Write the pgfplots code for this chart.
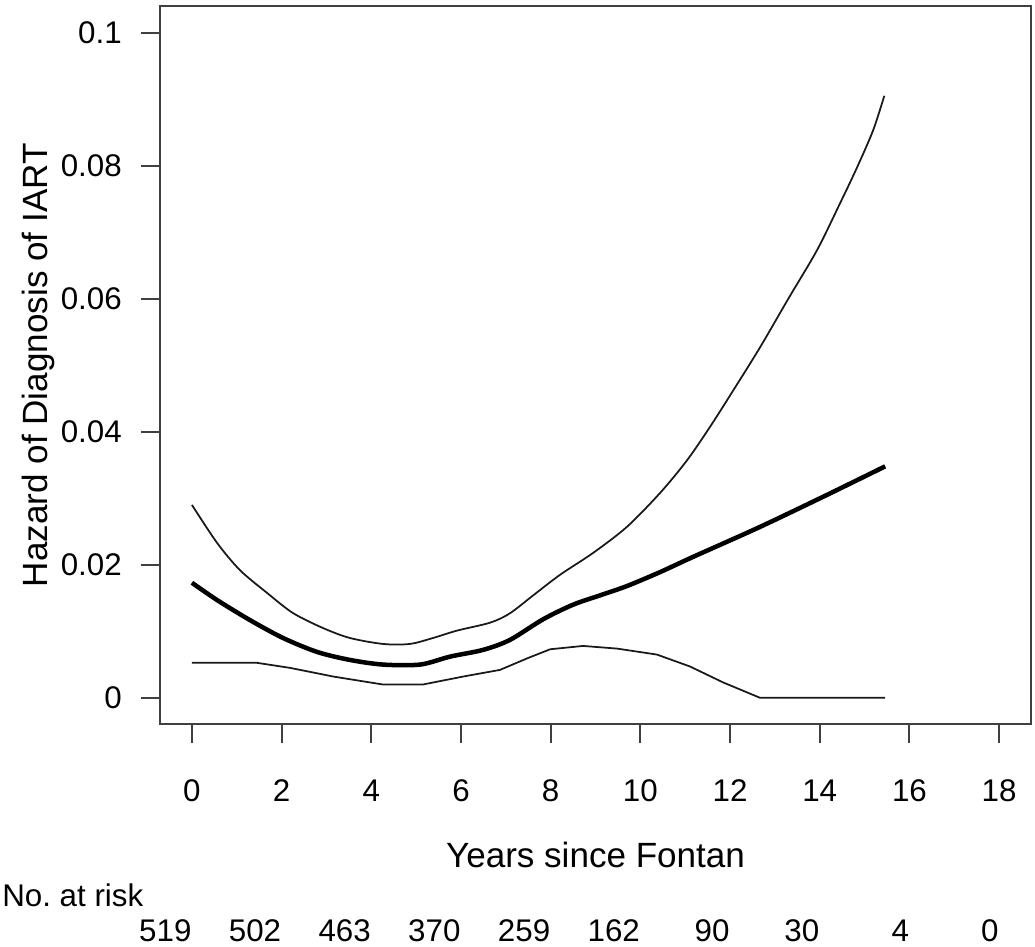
\documentclass[border=0pt]{standalone}
\usepackage{fontspec}
\setmainfont{Liberation Sans}
\usepackage{pgfplots}
\pgfplotsset{compat=1.18}

\begin{document}
\frenchspacing
\begin{tikzpicture}[risk/.style={anchor=base east, inner sep=0, font=\fontsize{12.5}{15}\selectfont}]
\begin{axis}[
  scale only axis, width=348pt, height=286.8pt,
  xmin=-0.72, xmax=18.72, ymin=-0.004, ymax=0.104,
  axis line style={draw=black!75, line width=0.8pt},
  xtick={0,2,4,6,8,10,12,14,16,18},
  ytick={0,0.02,0.04,0.06,0.08,0.1},
  yticklabels={0,0.02,0.04,0.06,0.08,0.1},
  scaled y ticks=false,
  tick align=outside, xtick pos=bottom, ytick pos=left,
  major tick length=7.6pt,
  tick style={draw=black!75, line width=0.8pt},
  tick label style={font=\fontsize{12.5}{15}\selectfont},
  /pgf/number format/assume math mode=true,
  xticklabel style={yshift=-11pt},
  yticklabel style={xshift=-4pt},
  clip=false,
]
% upper confidence limit
\addplot[black!90, line width=0.7pt, smooth, tension=0.5] coordinates {
(0,0.0290) (0.56,0.0233) (1.07,0.0192) (1.67,0.0158) (2.25,0.01276)
(2.92,0.0105) (3.52,0.0090) (4.26,0.0081) (4.86,0.0081) (5.38,0.0090)
(5.91,0.0101) (6.65,0.0113) (7.09,0.0127) (7.61,0.0154) (8.21,0.0185)
(8.95,0.0218) (9.70,0.0257) (10.44,0.0308) (11.04,0.0357) (11.55,0.0407)
(12.07,0.0462) (12.67,0.0527) (13.30,0.0600) (13.94,0.0673) (14.45,0.0743)
(14.83,0.0797) (15.19,0.0853) (15.44,0.0905)};
% hazard estimate
\addplot[black, line width=1.8pt, smooth, tension=0.5] coordinates {
(0,0.0173) (0.56,0.0147) (1.29,0.0117) (2.03,0.0090) (2.79,0.0069)
(3.52,0.0057) (4.26,0.0050) (5.09,0.0050) (5.76,0.0062) (6.49,0.0072)
(7.09,0.0087) (7.83,0.0118) (8.50,0.0140) (9.10,0.0154) (9.70,0.0168)
(10.44,0.0189) (11.18,0.0212) (12.67,0.0257) (14.16,0.0305) (15.46,0.0348)};
% lower confidence limit
\addplot[black!90, line width=0.7pt] coordinates {
(0,0.00526) (1.45,0.00526) (2.19,0.0045) (3.15,0.0032) (4.26,0.0020)
(5.15,0.0020) (6.05,0.0032) (6.87,0.0042) (7.50,0.0060) (7.99,0.0073)
(8.72,0.0078) (9.48,0.0074) (10.37,0.0065) (11.11,0.0047) (11.85,0.0023)
(12.67,0.0) (15.46,0.0)};

\node[rotate=90, anchor=base, inner sep=0, font=\fontsize{14}{17}\selectfont]
  at (axis cs:-3.23,0.05) {Hazard of Diagnosis of IART};
\node[anchor=base, inner sep=0, font=\fontsize{14}{17}\selectfont]
  at (axis cs:9,-0.02553) {Years since Fontan};
\node[anchor=base west, inner sep=0, font=\fontsize{12.5}{15}\selectfont]
  at (axis cs:-4.24,-0.03138) {No.\ at risk};
% numbers at risk, right-aligned on the ticks
\node[risk] at (axis cs:0,-0.0366) {519};
\node[risk] at (axis cs:2,-0.0366) {502};
\node[risk] at (axis cs:4,-0.0366) {463};
\node[risk] at (axis cs:6,-0.0366) {370};
\node[risk] at (axis cs:8,-0.0366) {259};
\node[risk] at (axis cs:10,-0.0366) {162};
\node[risk] at (axis cs:12,-0.0366) {90};
\node[risk] at (axis cs:14,-0.0366) {30};
\node[risk] at (axis cs:16,-0.0366) {4};
\node[risk] at (axis cs:18,-0.0366) {0};
\path (axis cs:-4.28,-0.0374) (axis cs:18.80,0.1049);
\end{axis}
\end{tikzpicture}
\end{document}
